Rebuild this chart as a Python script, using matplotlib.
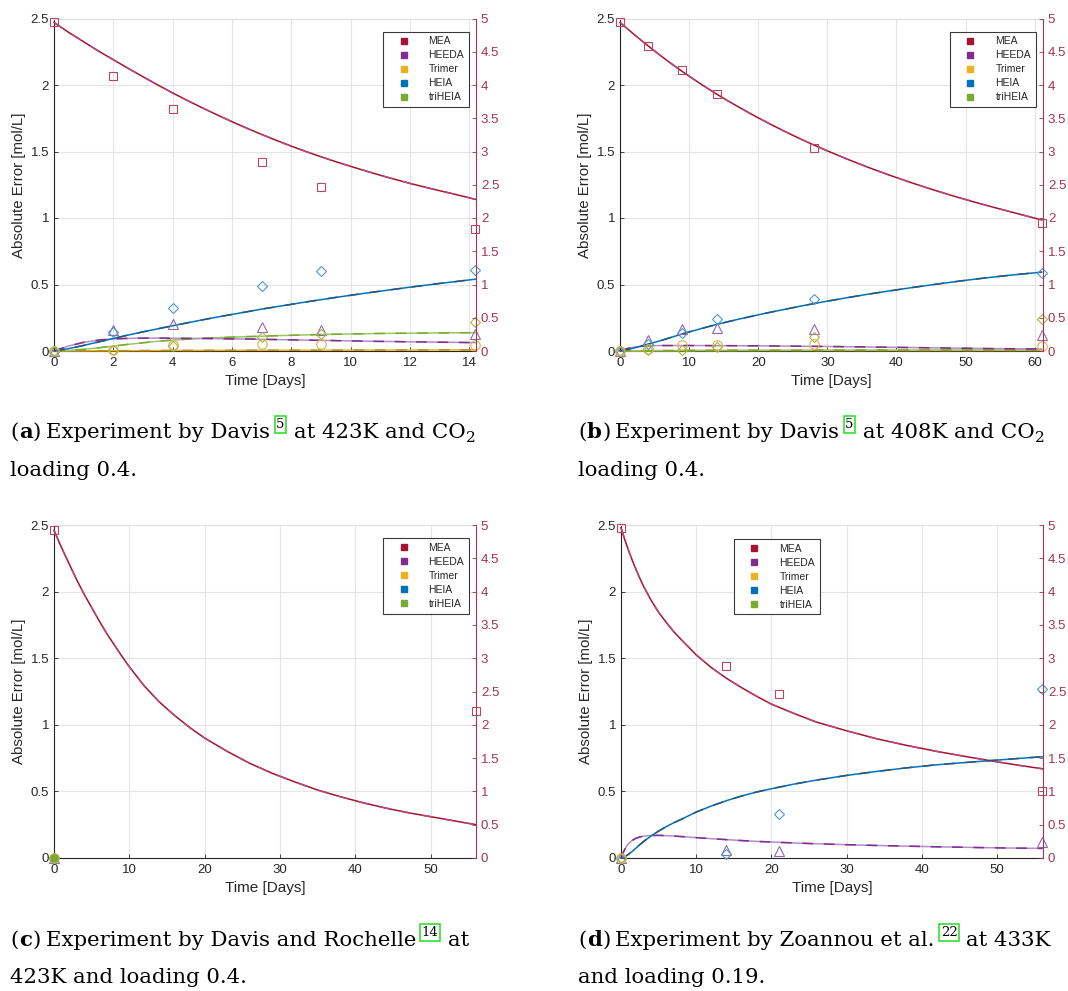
import matplotlib
matplotlib.use("Agg")
import matplotlib.pyplot as plt
from matplotlib.lines import Line2D
from matplotlib.ticker import FuncFormatter
import numpy as np

plt.rcParams['font.family'] = ['Liberation Sans', 'DejaVu Sans']

# ---------------- DATA ----------------
species = ['MEA', 'HEEDA', 'Trimer', 'HEIA', 'triHEIA']

# Panel (a)
a_t_pts = [0, 2, 4, 7, 9, 14.2]
a_mea_pts = [2.47, 2.07, 1.82, 1.42, 1.23, 0.92]
a_heeda_pts = [0, 0.16, 0.20, 0.18, 0.16, 0.13]
a_trimer_pts = [0, 0.01, 0.045, 0.05, 0.05, 0.045]
a_heia_pts = [0, 0.14, 0.32, 0.49, 0.60, 0.61]
a_triheia_pts = [0, 0.01, 0.04, 0.105, 0.13, 0.215]
a_t = [0, 0.5, 1, 1.5, 2, 2.5, 3, 3.5, 4, 4.5, 5, 5.5, 6, 6.5, 7, 7.5, 8, 8.5, 9, 9.5,
       10, 10.5, 11, 11.5, 12, 12.5, 13, 13.5, 14.2]
a_mea = [2.47, 2.395, 2.325, 2.255, 2.19, 2.125, 2.062, 2.0, 1.94, 1.883, 1.828, 1.775, 1.724, 1.675,
         1.628, 1.583, 1.54, 1.499, 1.46, 1.423, 1.388, 1.354, 1.321, 1.29, 1.26, 1.232, 1.205, 1.179, 1.14]
a_heeda = [0, 0.038, 0.065, 0.082, 0.091, 0.095, 0.097, 0.097, 0.096, 0.095, 0.094, 0.093, 0.091, 0.09,
           0.088, 0.086, 0.084, 0.082, 0.08, 0.078, 0.076, 0.074, 0.072, 0.071, 0.069, 0.068, 0.066, 0.065, 0.063]
a_trimer = [0, 0.0005, 0.001, 0.0015, 0.002, 0.0025, 0.003, 0.0035, 0.004, 0.0042, 0.0045, 0.0048, 0.005, 0.0053,
            0.0055, 0.0058, 0.006, 0.0062, 0.0064, 0.0066, 0.0068, 0.007, 0.0072, 0.0073, 0.0075, 0.0076, 0.0078, 0.0079, 0.008]
a_heia = [0, 0.018, 0.042, 0.068, 0.094, 0.12, 0.144, 0.167, 0.19, 0.212, 0.234, 0.255, 0.275, 0.295,
          0.315, 0.333, 0.351, 0.369, 0.386, 0.403, 0.419, 0.435, 0.45, 0.465, 0.48, 0.494, 0.508, 0.521, 0.54]
a_triheia = [0, 0.004, 0.012, 0.024, 0.037, 0.05, 0.062, 0.073, 0.082, 0.089, 0.095, 0.1, 0.104, 0.108,
             0.111, 0.115, 0.118, 0.121, 0.124, 0.126, 0.128, 0.13, 0.132, 0.133, 0.134, 0.135, 0.136, 0.137, 0.138]

# Panel (b)
b_t_pts = [0, 4, 9, 14, 28, 61]
b_mea_pts = [2.47, 2.295, 2.11, 1.93, 1.53, 0.965]
b_heeda_pts = [0, 0.08, 0.165, 0.17, 0.165, 0.12]
b_trimer_pts = [0, 0.015, 0.045, 0.045, 0.05, 0.04]
b_heia_pts = [0, 0.05, 0.135, 0.24, 0.39, 0.59]
b_triheia_pts = [0, 0.005, 0.01, 0.03, 0.105, 0.24]
b_t = [0, 1, 2, 3, 4, 5, 6, 7, 8, 9, 10, 12, 14, 16, 18, 20, 22, 24, 26, 28, 30, 33, 36, 39, 42, 45,
       48, 51, 54, 57, 61]
b_mea = [2.47, 2.426, 2.382, 2.339, 2.297, 2.256, 2.216, 2.177, 2.139, 2.102, 2.066, 1.997, 1.931, 1.869,
         1.81, 1.753, 1.699, 1.647, 1.597, 1.55, 1.505, 1.44, 1.379, 1.322, 1.268, 1.217, 1.169, 1.124,
         1.081, 1.04, 0.985]
b_heeda = [0, 0.018, 0.029, 0.035, 0.038, 0.04, 0.041, 0.041, 0.041, 0.041, 0.041, 0.041, 0.04, 0.04,
           0.039, 0.039, 0.038, 0.037, 0.036, 0.035, 0.034, 0.032, 0.03, 0.028, 0.026, 0.024, 0.022, 0.02,
           0.018, 0.017, 0.015]
b_trimer = [0, 0.001, 0.002, 0.002, 0.003, 0.003, 0.003, 0.003, 0.003, 0.004, 0.004, 0.004, 0.004, 0.004,
            0.004, 0.004, 0.004, 0.004, 0.004, 0.004, 0.004, 0.004, 0.004, 0.004, 0.004, 0.004, 0.004, 0.004,
            0.004, 0.004, 0.004]
b_heia = [0, 0.01, 0.022, 0.036, 0.05, 0.065, 0.08, 0.096, 0.112, 0.128, 0.143, 0.172, 0.2, 0.225,
          0.249, 0.272, 0.294, 0.315, 0.336, 0.356, 0.375, 0.402, 0.428, 0.452, 0.475, 0.497, 0.518, 0.538,
          0.556, 0.573, 0.593]
b_triheia = [0, 0.0003, 0.0006, 0.001, 0.0013, 0.0016, 0.002, 0.0022, 0.0025, 0.0028, 0.003, 0.0035, 0.004,
             0.0043, 0.0046, 0.005, 0.0052, 0.0054, 0.0056, 0.0058, 0.006, 0.0062, 0.0065, 0.0067, 0.007,
             0.0072, 0.0074, 0.0076, 0.0078, 0.0079, 0.008]

# Panel (c)
c_t_pts = [0, 56]
c_mea_pts = [2.46, 1.10]
c_t0 = [0]
c_zero_pts = [0]
c_t = [0, 1, 2, 3, 4, 5, 6, 7, 8, 9, 10, 12, 14, 16, 18, 20, 23, 26, 29, 32, 35, 38, 41, 44, 47, 50, 53, 56]
c_mea = [2.46, 2.33, 2.21, 2.09, 1.98, 1.88, 1.78, 1.685, 1.6, 1.515, 1.435, 1.29, 1.17, 1.07, 0.98, 0.9,
         0.8, 0.71, 0.635, 0.57, 0.51, 0.46, 0.415, 0.375, 0.34, 0.31, 0.28, 0.25]

# Panel (d)
d_t_pts = [0, 14, 21, 56]
d_mea_pts = [2.48, 1.44, 1.23, 0.50]
d_heeda_pts = [0, 0.06, 0.05, 0.12]
d_heia_pts = [0, 0.03, 0.33, 1.27]
d_t0 = [0]
d_zero_pts = [0]
d_t = [0, 0.25, 0.5, 0.75, 1, 1.5, 2, 2.5, 3, 4, 5, 6, 7, 8, 10, 12, 14, 16, 18, 20, 23, 26, 30, 34,
       38, 42, 46, 50, 53, 56]
d_mea = [2.48, 2.435, 2.39, 2.35, 2.31, 2.235, 2.165, 2.1, 2.04, 1.935, 1.845, 1.77, 1.7, 1.64, 1.525,
         1.43, 1.35, 1.28, 1.215, 1.155, 1.085, 1.02, 0.955, 0.895, 0.845, 0.8, 0.76, 0.722, 0.695, 0.67]
d_heia = [0, 0.004, 0.01, 0.018, 0.028, 0.05, 0.075, 0.1, 0.124, 0.166, 0.202, 0.235, 0.264, 0.29, 0.345,
          0.39, 0.43, 0.465, 0.495, 0.52, 0.555, 0.585, 0.62, 0.65, 0.677, 0.7, 0.718, 0.735, 0.748, 0.76]
d_heeda = [0, 0.035, 0.065, 0.09, 0.108, 0.133, 0.148, 0.158, 0.164, 0.169, 0.17, 0.168, 0.165, 0.161,
           0.153, 0.145, 0.138, 0.131, 0.125, 0.12, 0.113, 0.107, 0.1, 0.094, 0.089, 0.084, 0.08, 0.076,
           0.074, 0.072]

left_ticks = [0, 0.5, 1, 1.5, 2, 2.5]
right_ticks = [0, 0.5, 1, 1.5, 2, 2.5, 3, 3.5, 4, 4.5, 5]
a_xticks = [0, 2, 4, 6, 8, 10, 12, 14]
b_xticks = [0, 10, 20, 30, 40, 50, 60]
cd_xticks = [0, 10, 20, 30, 40, 50]

# ---------------- STYLE ----------------
W, H = 1068, 991
fig = plt.figure(figsize=(W / 100, H / 100), dpi=100)
fig.patch.set_facecolor('white')

leg_colors = ['#A2142F', '#7E2F8E', '#EDB120', '#0072BD', '#77AC30']
line_solid = {'MEA': '#A2142F', 'HEEDA': '#B48BC6', 'Trimer': '#EDB120', 'HEIA': '#0072BD', 'triHEIA': '#9CC46A'}
line_dash = {'MEA': '#B8477A', 'HEEDA': '#7E2F8E', 'Trimer': '#B8901A', 'HEIA': '#2C5778', 'triHEIA': '#77AC30'}
mk_color = {'MEA': '#B5485F', 'HEEDA': '#9466AE', 'Trimer': '#D8B444', 'HEIA': '#4A9CC4', 'triHEIA': '#AAB846'}
mk_shape = {'MEA': 's', 'HEEDA': '^', 'Trimer': 'o', 'HEIA': 'D', 'triHEIA': 'D'}
mk_size = {'MEA': 6.2, 'HEEDA': 6.8, 'Trimer': 6.8, 'HEIA': 5.6, 'triHEIA': 5.6}
RC = '#A8324F'
TXT = '#262626'

boxes = {
    'a': (54, 18.5, 476, 351),
    'b': (620, 18.5, 1043, 351),
    'c': (54, 525, 476, 858),
    'd': (621, 525, 1043, 858),
}
fmt = FuncFormatter(lambda v, p: '%g' % v)


def make_axes(key, xmax, xticks):
    l, t, r, b = boxes[key]
    ax = fig.add_axes([l / W, 1 - b / H, (r - l) / W, (b - t) / H])
    ax.set_xlim(0, xmax)
    ax.set_ylim(0, 2.5)
    ax.set_xticks(xticks)
    ax.set_yticks(left_ticks)
    ax.xaxis.set_major_formatter(fmt)
    ax.yaxis.set_major_formatter(fmt)
    ax.grid(True, color='#e4e4e4', lw=0.8)
    ax.set_axisbelow(True)
    ax.tick_params(direction='in', length=3, labelsize=9.5, labelcolor=TXT, color=TXT, width=0.6)
    ax.tick_params(axis='x', pad=4)
    for s in ['left', 'bottom']:
        ax.spines[s].set_color(TXT)
        ax.spines[s].set_linewidth(0.8)
    ax.spines['top'].set_color('#e0e0e0')
    ax.spines['right'].set_visible(False)
    ax.set_xlabel('Time [Days]', fontsize=11, color=TXT, labelpad=4)
    ax.set_ylabel('Absolute Error [mol/L]', fontsize=10.8, color=TXT, labelpad=3)
    ax2 = ax.twinx()
    ax2.set_ylim(0, 5)
    ax2.set_yticks(right_ticks)
    ax2.yaxis.set_major_formatter(fmt)
    ax2.tick_params(axis='y', direction='in', length=3, labelsize=9.5, colors=RC, width=0.6)
    for s in ['left', 'top', 'bottom']:
        ax2.spines[s].set_visible(False)
    ax2.spines['right'].set_color(RC)
    ax2.spines['right'].set_linewidth(0.8)
    return ax, ax2


def curve(ax, t, y, name):
    ax.plot(t, y, color=line_solid[name], lw=1.1, zorder=3, clip_on=False)
    ax.plot(t, y, color=line_dash[name], lw=1.1, ls=(0, (7, 7)), zorder=3.1, clip_on=False)


def pts(ax, t, y, name):
    ax.plot(t, y, ls='none', marker=mk_shape[name], ms=mk_size[name],
            mfc='none', mec=mk_color[name], mew=0.8, zorder=4, clip_on=False)


def legend(ax2, loc, anchor):
    handles = [Line2D([], [], ls='none', marker='s', ms=4.5, mfc=c, mec=c) for c in leg_colors]
    lg = ax2.legend(handles, species, loc=loc, bbox_to_anchor=anchor, fontsize=7.5,
                    frameon=True, fancybox=False, edgecolor='#3a3a3a', framealpha=1,
                    handlelength=3.0, handletextpad=0.9, borderpad=0.45, labelspacing=0.38,
                    borderaxespad=0)
    lg.get_frame().set_linewidth(0.8)
    for t in lg.get_texts():
        t.set_color(TXT)


# Panel (a)
ax, ax2 = make_axes('a', 14.22, a_xticks)
curve(ax, a_t, a_trimer, 'Trimer')
curve(ax, a_t, a_triheia, 'triHEIA')
curve(ax, a_t, a_heeda, 'HEEDA')
curve(ax, a_t, a_heia, 'HEIA')
curve(ax, a_t, a_mea, 'MEA')
pts(ax, a_t_pts, a_mea_pts, 'MEA')
pts(ax, a_t_pts, a_heeda_pts, 'HEEDA')
pts(ax, a_t_pts, a_trimer_pts, 'Trimer')
pts(ax, a_t_pts, a_heia_pts, 'HEIA')
pts(ax, a_t_pts, a_triheia_pts, 'triHEIA')
legend(ax2, 'upper right', (0.983, 0.96))

# Panel (b)
ax, ax2 = make_axes('b', 61.2, b_xticks)
curve(ax, b_t, b_trimer, 'Trimer')
curve(ax, b_t, b_triheia, 'triHEIA')
curve(ax, b_t, b_heeda, 'HEEDA')
curve(ax, b_t, b_heia, 'HEIA')
curve(ax, b_t, b_mea, 'MEA')
pts(ax, b_t_pts, b_mea_pts, 'MEA')
pts(ax, b_t_pts, b_heeda_pts, 'HEEDA')
pts(ax, b_t_pts, b_trimer_pts, 'Trimer')
pts(ax, b_t_pts, b_heia_pts, 'HEIA')
pts(ax, b_t_pts, b_triheia_pts, 'triHEIA')
legend(ax2, 'upper right', (0.983, 0.96))

# Panel (c)
ax, ax2 = make_axes('c', 56.0, cd_xticks)
curve(ax, c_t, c_mea, 'MEA')
pts(ax, c_t_pts, c_mea_pts, 'MEA')
for nm in ['HEEDA', 'Trimer', 'HEIA', 'triHEIA']:
    pts(ax, c_t0, c_zero_pts, nm)
ax.plot(c_t0, c_zero_pts, ls='none', marker='s', ms=5, color='#77AC30', zorder=5, clip_on=False)
legend(ax2, 'upper right', (0.983, 0.96))

# Panel (d)
ax, ax2 = make_axes('d', 56.1, cd_xticks)
curve(ax, d_t, d_heeda, 'HEEDA')
curve(ax, d_t, d_heia, 'HEIA')
curve(ax, d_t, d_mea, 'MEA')
pts(ax, d_t_pts, d_mea_pts, 'MEA')
pts(ax, d_t_pts, d_heeda_pts, 'HEEDA')
pts(ax, d_t_pts, d_heia_pts, 'HEIA')
for nm in ['Trimer', 'triHEIA']:
    pts(ax, d_t0, d_zero_pts, nm)
legend(ax2, 'upper left', (0.268, 0.958))

# ---------------- CAPTIONS ----------------
renderer = fig.canvas.get_renderer()
SERIF = ['DejaVu Serif']
FS = 15.3


def rich_line(x_px, y_px, pieces):
    x = x_px
    for kind, s, gap in pieces:
        x += gap
        kw = dict(family=SERIF, fontsize=FS, color='black', va='baseline', ha='left')
        yy = y_px
        if kind == 'bold':
            kw['fontweight'] = 'bold'
        elif kind == 'cite':
            kw['fontsize'] = 9.5
            kw['bbox'] = dict(boxstyle='square,pad=0.12', fc='none', ec='#22DD22', lw=1.1)
            yy = y_px - 10
        elif kind == 'sub':
            kw['fontsize'] = 11
            yy = y_px + 4
        t = fig.text(x / W, 1 - yy / H, s, **kw)
        bb = t.get_window_extent(renderer)
        x = bb.x1


def caption(x_px, y1, y2, letter, pre, cite, post, line2, sub=False):
    pieces = [('reg', '(', 0), ('bold', letter, 0.5), ('reg', ')', 0.5), ('reg', pre, 5),
              ('cite', cite, 6), ('reg', post, 9)]
    if sub:
        pieces.append(('sub', '2', 0.5))
    rich_line(x_px, y1, pieces)
    rich_line(x_px, y2, [('reg', line2, 0)])


caption(10, 438, 476, 'a', 'Experiment by Davis', '5', 'at 423K and CO', 'loading 0.4.', sub=True)
caption(578, 438, 476, 'b', 'Experiment by Davis', '5', 'at 408K and CO', 'loading 0.4.', sub=True)
caption(10, 946, 983, 'c', 'Experiment by Davis and Rochelle', '14', 'at', '423K and loading 0.4.')
caption(578, 946, 983, 'd', 'Experiment by Zoannou et al.', '22', 'at 433K', 'and loading 0.19.')

fig.savefig('out.png', dpi=100, facecolor='white')
